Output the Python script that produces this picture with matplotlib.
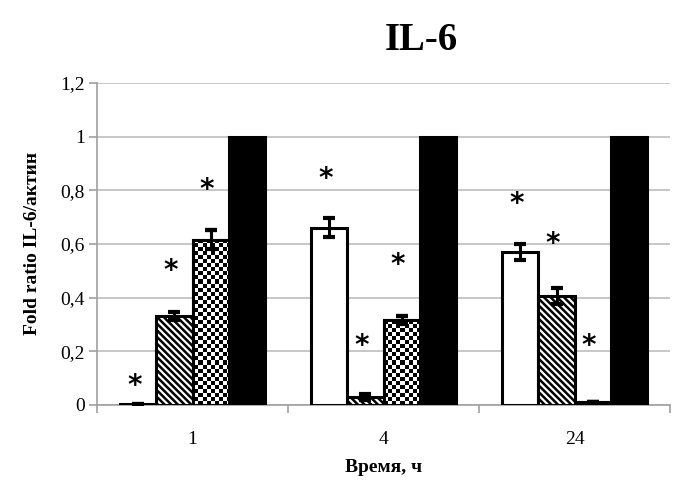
import matplotlib
matplotlib.use("Agg")
import matplotlib.pyplot as plt
import numpy as np

# data
times = ["1", "4", "24"]
white_vals = [0.005, 0.66, 0.57]
white_err = [0.0, 0.035, 0.03]
hatch_vals = [0.33, 0.03, 0.405]
hatch_err = [0.015, 0.01, 0.03]
check_vals = [0.615, 0.315, 0.01]
check_err = [0.035, 0.015, 0.0]
black_vals = [1.0, 1.0, 1.0]

# where the asterisks sit (y values)
star_white = [0.07, 0.84, 0.75]
star_hatch = [0.50, 0.22, 0.60]
star_check = [0.80, 0.52, 0.22]

plt.rcParams['font.family'] = ['Liberation Serif', 'DejaVu Serif']
plt.rcParams['hatch.linewidth'] = 1.8

fig = plt.figure(figsize=(6.79, 4.82), dpi=100)
ax = fig.add_axes([0.143, 0.160, 0.844, 0.668])

x = np.arange(len(times))
w = 0.19
lw = 2.2
err_kw = dict(ecolor='black', elinewidth=2.2, capsize=4, capthick=3)

ax.bar(x - 1.5 * w, white_vals, w, yerr=white_err, color='white',
       edgecolor='black', linewidth=lw, error_kw=err_kw, zorder=3)
ax.bar(x - 0.5 * w, hatch_vals, w, yerr=hatch_err, color='white',
       edgecolor='black', linewidth=lw, hatch='\\' * 5, error_kw=err_kw, zorder=3)
cbars = ax.bar(x + 0.5 * w, check_vals, w, yerr=check_err, color='white',
               edgecolor='black', linewidth=lw, error_kw=err_kw, zorder=3)
ax.bar(x + 1.5 * w, black_vals, w, color='black', edgecolor='black',
       linewidth=lw, zorder=3)

ax.set_xlim(-0.5, 2.5)
ax.set_ylim(0, 1.2)

# checkerboard fill, clipped to each checkered bar
ny, nx = 80, 142
yy, xx = np.mgrid[0:ny, 0:nx]
checker = ((yy + xx) % 2).astype(float)
for b in cbars:
    im = ax.imshow(checker, cmap='gray', extent=(-0.5, 2.5, 0, 1.2),
                   aspect='auto', interpolation='nearest', zorder=3.5)
    im.set_clip_path(b)
# redraw edges on top of the pattern
ax.bar(x + 0.5 * w, check_vals, w, color='none', edgecolor='black',
       linewidth=lw, zorder=4)
ax.errorbar(x + 0.5 * w, check_vals, yerr=check_err, fmt='none', zorder=5, **err_kw)

# asterisks
for xs, ys in [(x - 1.5 * w, star_white), (x - 0.5 * w, star_hatch), (x + 0.5 * w, star_check)]:
    for xi, yi in zip(xs, ys):
        ax.text(xi - 0.02, yi, '*', ha='center', va='center', fontsize=20,
                family='DejaVu Sans', fontweight='bold', zorder=6)

ax.set_yticks(np.arange(0, 1.21, 0.2))
ax.set_yticklabels(['0', '0,2', '0,4', '0,6', '0,8', '1', '1,2'], fontsize=14)
ax.set_xticks(x)
ax.set_xticklabels(times, fontsize=14)
ax.set_xticks([-0.5, 0.5, 1.5, 2.5], minor=True)
ax.tick_params(axis='x', which='major', length=0, pad=19)
ax.tick_params(axis='x', which='minor', length=6, color='#a0a0a0', width=1.2)
ax.tick_params(axis='y', length=6, color='#a0a0a0', width=1.2, pad=3)

ax.grid(axis='y', color='#bdbdbd', linewidth=1.2, zorder=0)
ax.set_axisbelow(True)
for s in ['top', 'right']:
    ax.spines[s].set_visible(False)
for s in ['left', 'bottom']:
    ax.spines[s].set_color('#a0a0a0')
    ax.spines[s].set_linewidth(1.2)

ax.set_xlabel('Время, ч', fontsize=14, fontweight='bold', labelpad=8)
ax.set_ylabel('Fold ratio IL-6/актин', fontsize=14, fontweight='bold', labelpad=14)
fig.text(0.62, 0.915, 'IL-6', ha='center', va='center', fontsize=28, fontweight='bold')

fig.savefig('out.png', dpi=100)
